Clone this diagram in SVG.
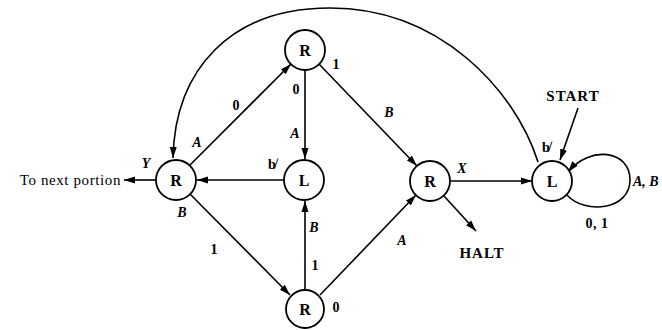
<svg xmlns="http://www.w3.org/2000/svg" width="662" height="330" viewBox="0 0 662 330">
<style>
.node circle{fill:#fff;stroke:#000;stroke-width:1.8}
.node text{font-family:"Liberation Serif","DejaVu Serif",serif;font-weight:bold;font-size:16px;text-anchor:middle}
.edge{fill:none;stroke:#000;stroke-width:1.6}
.lbl{font-family:"Liberation Serif","DejaVu Serif",serif;font-weight:bold;font-size:14px;text-anchor:middle}
.it{font-style:italic}
.txt{font-family:"Liberation Serif","DejaVu Serif",serif;font-weight:bold;font-size:14px}
</style>
<defs>
<marker id="ah" markerUnits="userSpaceOnUse" markerWidth="12" markerHeight="8" refX="11" refY="4" orient="auto">
<path d="M0,0.5 L11,4 L0,7.5 Z" fill="#000"/>
</marker>
</defs>
<g id="connectors">
<path class="edge" d="M538,162 C515,90 440,8 330,8 C230,8 175,70 173,158" marker-end="url(#ah)"/>
<line class="edge" x1="190" y1="165" x2="291" y2="64" marker-end="url(#ah)"/>
<line class="edge" x1="305" y1="70" x2="305" y2="159" marker-end="url(#ah)"/>
<line class="edge" x1="319" y1="64" x2="417" y2="166" marker-end="url(#ah)"/>
<line class="edge" x1="284" y1="180" x2="197" y2="180" marker-end="url(#ah)"/>
<line class="edge" x1="156" y1="180" x2="124" y2="180" marker-end="url(#ah)"/>
<line class="edge" x1="190" y1="194" x2="290" y2="295" marker-end="url(#ah)"/>
<line class="edge" x1="305" y1="289" x2="305" y2="201" marker-end="url(#ah)"/>
<line class="edge" x1="320" y1="295" x2="416" y2="195" marker-end="url(#ah)"/>
<line class="edge" x1="451" y1="181" x2="532" y2="181" marker-end="url(#ah)"/>
<line class="edge" x1="444" y1="196" x2="476" y2="231" marker-end="url(#ah)"/>
<line class="edge" x1="578" y1="108" x2="560" y2="160" marker-end="url(#ah)"/>
<path class="edge" d="M567,195 C585,215 630,210 630,180 C630,150 590,145 568,172" marker-end="url(#ah)"/>
</g>
<g id="labels">
<text class="lbl" x="236" y="110">0</text>
<text class="lbl it" x="197" y="147">A</text>
<text class="lbl" x="296" y="94">0</text>
<text class="lbl it" x="295" y="138">A</text>
<text class="lbl" x="336" y="69">1</text>
<text class="lbl it" x="389" y="117">B</text>
<text class="lbl" x="272" y="169">b̸</text>
<text class="lbl it" x="146" y="168">Y</text>
<text class="lbl it" x="182" y="217">B</text>
<text class="lbl" x="214" y="254">1</text>
<text class="lbl it" x="314" y="232">B</text>
<text class="lbl" x="315" y="270">1</text>
<text class="lbl" x="336" y="312">0</text>
<text class="lbl it" x="402" y="245">A</text>
<text class="lbl it" x="462" y="173">X</text>
<text class="lbl" x="546" y="152">b̸</text>
<text class="lbl" x="597" y="228" style="letter-spacing:0.5px">0, 1</text>
<text class="lbl it" x="633" y="186" style="text-anchor:start">A, B</text>
<text class="txt" x="121" y="185" style="text-anchor:end;font-weight:normal;font-size:15px;letter-spacing:0.6px">To next portion</text>
<text class="txt" x="482" y="258" style="text-anchor:middle;font-size:15px;letter-spacing:1px">HALT</text>
<text class="txt" x="573" y="101" style="text-anchor:middle;font-size:15px;letter-spacing:1px">START</text>
</g>
<g id="n_top" class="node"><circle cx="305" cy="50" r="20"/><text x="305" y="56">R</text></g>
<g id="n_left" class="node"><circle cx="176" cy="180" r="20"/><text x="176" y="186">R</text></g>
<g id="n_mid" class="node"><circle cx="304" cy="180" r="20"/><text x="304" y="186">L</text></g>
<g id="n_bot" class="node"><circle cx="305" cy="309" r="19"/><text x="305" y="315">R</text></g>
<g id="n_right" class="node"><circle cx="430" cy="181" r="20"/><text x="430" y="187">R</text></g>
<g id="n_far" class="node"><circle cx="552" cy="181" r="20"/><text x="552" y="187">L</text></g>
</svg>
